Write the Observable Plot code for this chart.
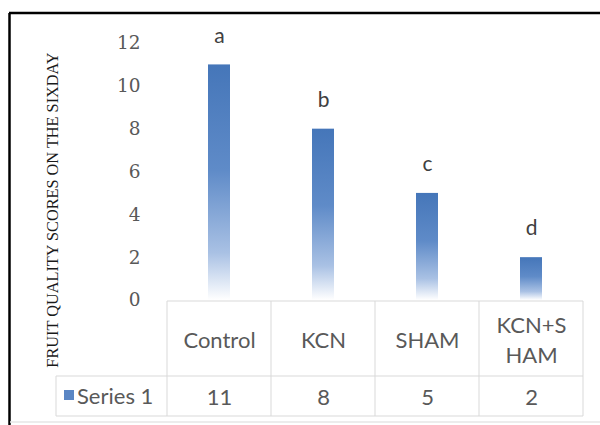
<!DOCTYPE html>
<html>
<head>
<meta charset="utf-8">
<script src="https://cdn.jsdelivr.net/npm/d3@7"></script>
<script src="https://cdn.jsdelivr.net/npm/@observablehq/plot@0.6"></script>
<style>
  html, body { margin: 0; padding: 0; background: #fff; }
  #chart svg { display: block; }
</style>
</head>
<body>
<div id="chart"></div>
<script>
const categories = ["Control", "KCN", "SHAM", "KCN+S\nHAM"];
const values = [11, 8, 5, 2];
const letters = ["a", "b", "c", "d"];
const yTicks = [0, 2, 4, 6, 8, 10, 12];
const seriesName = "Series 1";
const yLabel = "FRUIT QUALITY SCORES ON THE SIXDAY";

const data = categories.map((c, i) => ({cat: c, value: values[i], letter: letters[i]}));

const sans = "Lato, 'Open Sans', sans-serif";
const serif = "'DejaVu Serif', 'Liberation Serif', serif";

// table grid, gradient, border and legend entry, positioned from the scales
function tableMark(index, scales, values, dims) {
  const g = d3.create("svg:g");
  const defs = g.append("defs");
  const grad = defs.append("linearGradient").attr("id", "barGrad")
    .attr("x1", 0).attr("y1", 0).attr("x2", 0).attr("y2", 1);
  [[0, "#4576b9"], [0.45, "#5f8bc8"], [0.8, "#a9c1e4"], [1, "#ffffff"]]
    .forEach(([o, c]) => grad.append("stop").attr("offset", o).attr("stop-color", c));

  const x = scales.x;
  const bwRaw = x.bandwidth;
  const bw = typeof bwRaw === "function" ? bwRaw() : (bwRaw ?? (x(categories[1]) - x(categories[0])));
  const x0 = x(categories[0]);
  const x1 = x(categories[categories.length - 1]) + bw;
  const yTop = scales.y(0) + 1;
  const yRow = yTop + 75;
  const yBot = yTop + 115;
  const xLeg = x0 - 111;
  const line = (a, b, c, d, col = "#d9d9d9", w = 1) =>
    g.append("line").attr("x1", a).attr("y1", b).attr("x2", c).attr("y2", d)
      .attr("stroke", col).attr("stroke-width", w);

  line(x0, yTop, x1, yTop);
  line(xLeg, yRow, x1, yRow);
  line(xLeg, yBot, x1, yBot);
  line(xLeg, yRow, xLeg, yBot);
  categories.forEach(c => line(x(c), yTop, x(c), yBot));
  line(x1, yTop, x1, yBot);

  // legend entry
  g.append("rect").attr("x", xLeg + 8).attr("y", yRow + 14).attr("width", 10).attr("height", 10)
    .attr("fill", "#5a86c4");
  g.append("text").attr("x", xLeg + 21).attr("y", (yRow + yBot) / 2)
    .attr("dy", "0.35em").attr("text-anchor", "start")
    .attr("font-family", sans).attr("font-size", 22)
    .attr("fill", "#595959").text(seriesName);

  // outer border
  line(9, 13, dims.width, 13, "#000", 2.5);
  line(9.5, 13, 9.5, dims.height, "#000", 2.5);
  line(10, dims.height - 3, dims.width, dims.height - 3, "#e6e6e6", 1.5);
  return g.node();
}

const axis = Plot.axisY
  ? Plot.axisY({ticks: yTicks, tickSize: 0, tickPadding: 26, fontSize: 18.5,
      fill: "#595959", fontFamily: serif, label: null})
  : null;

const chart = Plot.plot({
  width: 600,
  height: 425,
  marginLeft: 166,
  marginRight: 17,
  marginTop: 43,
  marginBottom: 125,
  style: {background: "white", overflow: "visible"},
  x: {domain: categories, padding: 0, axis: null},
  y: {domain: [0, 12], ticks: yTicks, tickSize: 0, tickPadding: 26, label: null},
  marks: [
    tableMark,
    Plot.barY(data, {x: "cat", y: "value", fill: "url(#barGrad)", insetLeft: 41, insetRight: 41}),
    Plot.text(data, {x: "cat", y: "value", text: "letter", dy: -29, fontSize: 21,
      fill: "#404040", fontFamily: sans}),
    Plot.text(data, {x: "cat", y: 0, text: "cat", dy: 38, fontSize: 22, lineHeight: 1.36,
      fill: "#595959", fontFamily: sans}),
    Plot.text(data, {x: "cat", y: 0, text: d => String(d.value), dy: 97, fontSize: 22,
      fill: "#595959", fontFamily: sans}),
    Plot.text([yLabel], {text: d => d, frameAnchor: "left", textAnchor: "middle", rotate: -90,
      dx: -114, dy: 38, fontSize: 16.3, fill: "#1a1a1a", fontFamily: "'Liberation Serif', serif"}),
    ...(axis ? [axis] : [])
  ]
});
document.getElementById("chart").appendChild(chart);
</script>
</body>
</html>
